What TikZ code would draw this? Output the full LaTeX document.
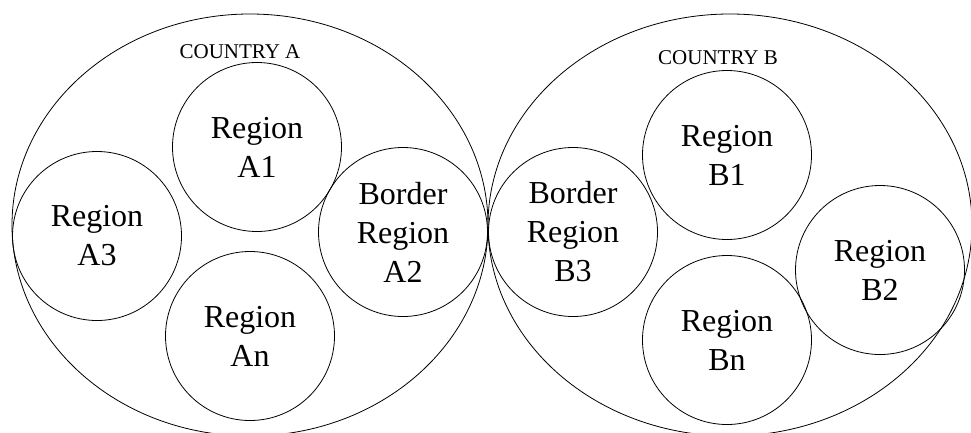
\documentclass[tikz,border=0pt]{standalone}
\usepackage{fontspec}
\setmainfont{Liberation Serif}
\usetikzlibrary{shapes.geometric}
\begin{document}
\begin{tikzpicture}[x=1pt,y=-1pt,
  country/.style={draw,ellipse,line width=0.8pt,inner sep=0pt},
  region/.style={draw,circle,line width=0.8pt,inner sep=0pt,minimum size=169pt,
    align=center,font=\fontsize{32}{39}\selectfont},
  clabel/.style={anchor=base,font=\fontsize{21}{25}\selectfont}]
\useasboundingbox (0,0) rectangle (971,432);
\clip (0,0) rectangle (971,432);
\node[country,minimum width=476pt,minimum height=422pt] (ca) at (250,225) {};
\node[country,minimum width=484pt,minimum height=422pt] (cb) at (730,225) {};
\node[clabel] (la) at (240,58) {COUNTRY A};
\node[clabel] (lb) at (718,64) {COUNTRY B};
\node[region] (a1) at (257,147) {Region\\A1};
\node[region] (a3) at (97,236) {Region\\A3};
\node[region] (a2) at (403,232) {Border\\Region\\A2};
\node[region] (an) at (250,336) {Region\\An};
\node[region] (b3) at (573,232) {Border\\Region\\B3};
\node[region] (b1) at (727,155) {Region\\B1};
\node[region] (b2) at (880,270) {Region\\B2};
\node[region] (bn) at (727,340) {Region\\Bn};
\end{tikzpicture}
\end{document}
